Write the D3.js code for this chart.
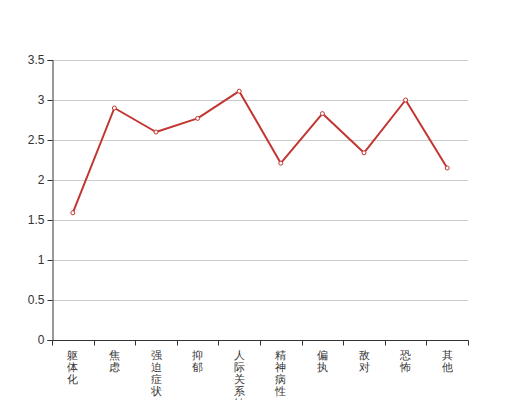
<!DOCTYPE html>
<html><head><meta charset="utf-8">
<script src="https://cdn.jsdelivr.net/npm/d3@7/dist/d3.min.js"></script>
<style>body{margin:0;background:#fff}svg{display:block}</style>
</head><body>
<svg id="c" width="520" height="400"></svg>
<script>
const categories = ["躯体化","焦虑","强迫症状","抑郁","人际关系敏感","精神病性","偏执","敌对","恐怖","其他"];
const values = [1.59, 2.9, 2.6, 2.77, 3.11, 2.21, 2.83, 2.34, 3.0, 2.15];
const yTicks = [0, 0.5, 1, 1.5, 2, 2.5, 3, 3.5];

(function(){
const svg = d3.select("#c");
const mL = 52, mR = 468, mT = 60, mB = 340;
const font = "sans-serif";
const x = d3.scaleBand().domain(categories).range([mL, mR]);
const y = d3.scaleLinear().domain([0, 3.5]).range([mB, mT]);

// grid
svg.append("g").selectAll("line").data(yTicks.filter(d => d > 0)).join("line")
  .attr("x1", mL).attr("x2", mR)
  .attr("y1", d => Math.round(y(d)) + 0.5).attr("y2", d => Math.round(y(d)) + 0.5)
  .attr("stroke", "#ccc").attr("stroke-width", 1);

// y axis
const ya = svg.append("g").attr("transform", `translate(${mL + 0.5},0)`)
  .call(d3.axisLeft(y).tickValues(yTicks).tickSize(5).tickPadding(3).tickFormat(d => String(d)));
ya.select(".domain").attr("stroke", "#333");
ya.selectAll(".tick line").attr("stroke", "#333");
ya.selectAll("text").attr("fill", "#333").attr("font-size", 12).attr("font-family", font);

// x axis
const xa = svg.append("g").attr("transform", `translate(0,${mB + 0.5})`);
xa.append("line").attr("x1", mL).attr("x2", mR + 0.5).attr("stroke", "#333");
const bounds = categories.map(c => x(c)).concat([mR]);
xa.selectAll("line.t").data(bounds).join("line").attr("class", "t")
  .attr("x1", d => Math.round(d) + 0.5).attr("x2", d => Math.round(d) + 0.5)
  .attr("y1", 0).attr("y2", 5).attr("stroke", "#333");
const lbl = xa.selectAll("text").data(categories).join("text")
  .attr("x", d => x(d) + x.bandwidth() / 2)
  .attr("y", 7)
  .attr("fill", "#333").attr("font-size", 11).attr("font-family", font)
  .attr("text-anchor", "middle");
lbl.each(function(d) {
  const t = d3.select(this);
  Array.from(d).forEach((ch, i) => {
    t.append("tspan").attr("x", x(d) + x.bandwidth() / 2)
      .attr("dy", i === 0 ? 11 : 12).text(ch);
  });
});

// line
const cx = (d, i) => x(categories[i]) + x.bandwidth() / 2;
svg.append("path").datum(values)
  .attr("d", d3.line().x(cx).y(d => y(d)))
  .attr("fill", "none").attr("stroke", "#c23531").attr("stroke-width", 2)
  .attr("stroke-linejoin", "bevel");
svg.append("g").selectAll("circle").data(values).join("circle")
  .attr("cx", cx).attr("cy", d => y(d)).attr("r", 2)
  .attr("fill", "#fff").attr("stroke", "#c23531").attr("stroke-width", 1);
})();
</script>
</body></html>
